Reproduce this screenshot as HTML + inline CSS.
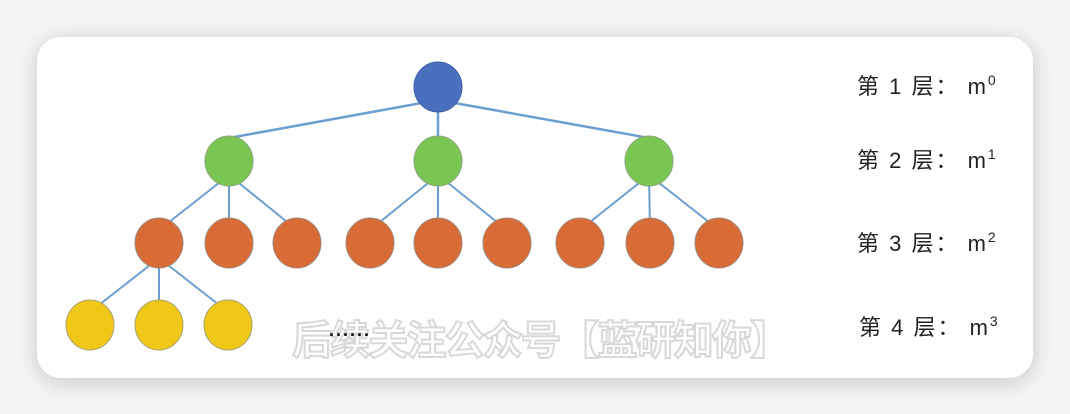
<!DOCTYPE html>
<html><head><meta charset="utf-8"><style>
html,body{margin:0;padding:0;width:1070px;height:414px;background:#f4f4f4;overflow:hidden;font-family:"Liberation Sans","Noto Sans CJK SC",sans-serif}
.card{position:absolute;left:37px;top:37px;width:996px;height:341px;background:#fff;border-radius:24px;box-shadow:0 4px 22px rgba(0,0,0,0.18)}
</style></head><body>
<div class="card"></div>
<svg width="1070" height="414" style="position:absolute;left:0;top:0">
<g stroke="#6a9fd0" stroke-width="2.5">
<line x1="438" y1="100" x2="229" y2="138"/><line x1="438" y1="100" x2="438" y2="138"/><line x1="438" y1="100" x2="649" y2="138"/>
</g>
<g stroke="#6a9fd0" stroke-width="2">
<line x1="229" y1="175" x2="159" y2="230"/><line x1="229" y1="175" x2="229" y2="230"/><line x1="229" y1="175" x2="297" y2="230"/>
<line x1="438" y1="175" x2="370" y2="230"/><line x1="438" y1="175" x2="438" y2="230"/><line x1="438" y1="175" x2="507" y2="230"/>
<line x1="649" y1="175" x2="580" y2="230"/><line x1="649" y1="175" x2="650" y2="230"/><line x1="649" y1="175" x2="719" y2="230"/>
<line x1="159" y1="258" x2="90" y2="312"/><line x1="159" y1="258" x2="159" y2="312"/><line x1="159" y1="258" x2="228" y2="312"/>
</g>
<ellipse cx="438" cy="87" rx="24" ry="25" fill="#4a6fbe" stroke="#3d5fa5"/>
<g fill="#7ac653" stroke="#8aa57a">
<ellipse cx="229" cy="161" rx="24" ry="25"/><ellipse cx="438" cy="161" rx="24" ry="25"/><ellipse cx="649" cy="161" rx="24" ry="25"/>
</g>
<g fill="#d96c36" stroke="#a0887a">
<ellipse cx="159" cy="243" rx="24" ry="25"/><ellipse cx="229" cy="243" rx="24" ry="25"/><ellipse cx="297" cy="243" rx="24" ry="25"/>
<ellipse cx="370" cy="243" rx="24" ry="25"/><ellipse cx="438" cy="243" rx="24" ry="25"/><ellipse cx="507" cy="243" rx="24" ry="25"/>
<ellipse cx="580" cy="243" rx="24" ry="25"/><ellipse cx="650" cy="243" rx="24" ry="25"/><ellipse cx="719" cy="243" rx="24" ry="25"/>
</g>
<g fill="#f0c918" stroke="#a8a070">
<ellipse cx="90" cy="325" rx="24" ry="25"/><ellipse cx="159" cy="325" rx="24" ry="25"/><ellipse cx="228" cy="325" rx="24" ry="25"/>
</g>
<text x="292" y="354" font-size="40" font-weight="bold" fill="#fff" stroke="#d8d8d8" stroke-width="2" font-family="Noto Sans CJK SC,sans-serif" textLength="498">后续关注公众号【蓝研知你】</text>
<text x="329" y="336" font-size="18" font-weight="bold" fill="#111" letter-spacing="2">......</text>
<g font-size="22" fill="#222" font-family="Liberation Sans,Noto Sans CJK SC,sans-serif" letter-spacing="2">
<text x="857" y="94">第 1 层： m<tspan font-size="14" dy="-9">0</tspan></text>
<text x="857" y="168">第 2 层： m<tspan font-size="14" dy="-9">1</tspan></text>
<text x="857" y="251">第 3 层： m<tspan font-size="14" dy="-9">2</tspan></text>
<text x="859" y="335">第 4 层： m<tspan font-size="14" dy="-9">3</tspan></text>
</g>
</svg>
</body></html>
